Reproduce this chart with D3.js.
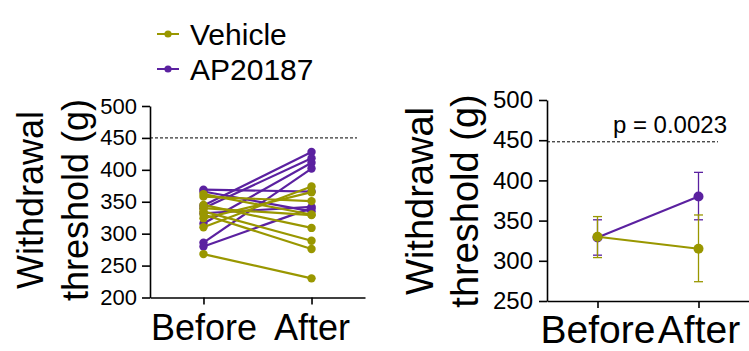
<!DOCTYPE html>
<html>
<head>
<meta charset="utf-8">
<script src="https://cdn.jsdelivr.net/npm/d3@7"></script>
<style>
  body { margin: 0; background: #fff; }
  svg { font-family: Arial, "Liberation Sans", sans-serif; }
  .axis path, .axis line { stroke: #000; stroke-width: 1.6; }
  .axis text { fill: #000; }
</style>
</head>
<body>
<div id="chart"></div>
<script>
// timepoints
var timepoints = ['Before', 'After'];
var groups = ['Vehicle', 'AP20187'];

// individual animals (left panel), [before, after]
var vehicleBefore = [268, 310, 324, 330, 335, 340, 345, 358, 362];
var vehicleAfter  = [230, 374, 365, 276, 289, 329, 309, 351, 330];
var apBefore = [369, 366, 344, 340, 332, 316, 286, 280];
var apAfter  = [366, 335, 428, 418, 342, 411, 402, 340];

// group summary (right panel): mean and error bar ends
var vehicleMean = [330, 315];
var vehicleLow  = [304, 274];
var vehicleHigh = [355, 357];
var apMean = [329, 380];
var apLow  = [307, 351];
var apHigh = [351, 410];

var leftTicks = [200, 250, 300, 350, 400, 450, 500];
var rightTicks = [250, 300, 350, 400, 450, 500];
var cutoffLeft = 450, cutoffRight = 448;
var pLabel = 'p = 0.0023';

var colors = {Vehicle: '#999700', AP20187: '#5b21a0'};

var svg = d3.select('#chart').append('svg')
    .attr('width', 749)
    .attr('height', 351);

// ---------- legend ----------
var legend = svg.append('g');
groups.forEach(function (g, i) {
    var y = 34 + i * 35;
    legend.append('line')
        .attr('x1', 157).attr('x2', 179).attr('y1', y).attr('y2', y)
        .attr('stroke', colors[g]).attr('stroke-width', 2);
    legend.append('circle')
        .attr('cx', 168).attr('cy', y).attr('r', 3.6)
        .attr('fill', colors[g]);
    legend.append('text')
        .attr('x', 190).attr('y', y + 11)
        .style('font-size', '30px')
        .text(g);
});

function yTitle(x1, x2, cy, size) {
    [['Withdrawal', x1], ['threshold (g)', x2]].forEach(function (t) {
        svg.append('text')
            .attr('transform', 'translate(' + t[1] + ',' + cy + ') rotate(-90)')
            .attr('text-anchor', 'middle')
            .style('font-size', size + 'px')
            .text(t[0]);
    });
}

// ---------- left panel: paired lines ----------
var xL = d3.scalePoint().domain(timepoints).range([150, 365]).padding(0.495);
var yL = d3.scaleLinear().domain([200, 500]).range([297.5, 106]);

var gL = svg.append('g');

gL.append('line')
    .attr('x1', 150).attr('x2', 357)
    .attr('y1', yL(cutoffLeft)).attr('y2', yL(cutoffLeft))
    .attr('stroke', '#000').attr('stroke-width', 1)
    .attr('stroke-dasharray', '3,2');

function pairs(before, after) {
    return before.map(function (b, i) { return [b, after[i]]; });
}

var lineL = d3.line()
    .x(function (d, i) { return xL(timepoints[i]); })
    .y(function (d) { return yL(d); });

// AP20187 drawn first so the vehicle dots sit on top where they overlap
[['AP20187', pairs(apBefore, apAfter)], ['Vehicle', pairs(vehicleBefore, vehicleAfter)]].forEach(function (grp) {
    var c = colors[grp[0]];
    var s = gL.append('g');
    s.selectAll('path').data(grp[1]).enter().append('path')
        .attr('d', lineL)
        .attr('fill', 'none').attr('stroke', c).attr('stroke-width', 2.2);
    grp[1].forEach(function (p) {
        s.selectAll(null).data(p).enter().append('circle')
            .attr('cx', function (d, i) { return xL(timepoints[i]); })
            .attr('cy', function (d) { return yL(d); })
            .attr('r', 4.2)
            .attr('fill', c);
    });
});

gL.append('g').attr('class', 'axis')
    .attr('transform', 'translate(150,0)')
    .call(d3.axisLeft(yL).tickValues(leftTicks).tickSize(8).tickSizeOuter(0).tickPadding(5))
    .selectAll('text').style('font-size', '22px');

var axL = gL.append('g').attr('class', 'axis')
    .attr('transform', 'translate(0,297.5)')
    .call(d3.axisBottom(xL).tickSize(7).tickSizeOuter(0));
axL.selectAll('text').attr('y', 42.5).attr('dy', 0).style('font-size', '36px');

yTitle(43, 88, 200, 36);

// ---------- right panel: mean with error bars ----------
var xR = d3.scalePoint().domain(timepoints).range([547, 749]).padding(0.5);
var yR = d3.scaleLinear().domain([250, 500]).range([301, 100]);

var gR = svg.append('g');

gR.append('line')
    .attr('x1', 547).attr('x2', 718)
    .attr('y1', yR(cutoffRight)).attr('y2', yR(cutoffRight))
    .attr('stroke', '#000').attr('stroke-width', 1)
    .attr('stroke-dasharray', '3,2');

gR.append('text')
    .attr('x', 727).attr('y', 133)
    .attr('text-anchor', 'end')
    .style('font-size', '24px')
    .text(pLabel);

var lineR = d3.line()
    .x(function (d, i) { return xR(timepoints[i]); })
    .y(function (d) { return yR(d); });

[['AP20187', apMean, apLow, apHigh], ['Vehicle', vehicleMean, vehicleLow, vehicleHigh]].forEach(function (grp) {
    var c = colors[grp[0]];
    var s = gR.append('g');
    grp[1].forEach(function (m, i) {
        var x = xR(timepoints[i]);
        s.append('line')
            .attr('x1', x).attr('x2', x)
            .attr('y1', yR(grp[2][i])).attr('y2', yR(grp[3][i]))
            .attr('stroke', c).attr('stroke-width', 1.3);
        [grp[2][i], grp[3][i]].forEach(function (v) {
            s.append('line')
                .attr('x1', x - 4.5).attr('x2', x + 4.5)
                .attr('y1', yR(v)).attr('y2', yR(v))
                .attr('stroke', c).attr('stroke-width', 1.3);
        });
    });
    s.append('path').datum(grp[1])
        .attr('d', lineR)
        .attr('fill', 'none').attr('stroke', c).attr('stroke-width', 2);
    s.selectAll('circle').data(grp[1]).enter().append('circle')
        .attr('cx', function (d, i) { return xR(timepoints[i]); })
        .attr('cy', function (d) { return yR(d); })
        .attr('r', 5)
        .attr('fill', c);
});

gR.append('g').attr('class', 'axis')
    .attr('transform', 'translate(547,0)')
    .call(d3.axisLeft(yR).tickValues(rightTicks).tickSize(8).tickSizeOuter(0).tickPadding(6))
    .selectAll('text').style('font-size', '24px');

var axR = gR.append('g').attr('class', 'axis')
    .attr('transform', 'translate(0,301)')
    .call(d3.axisBottom(xR).tickSize(7).tickSizeOuter(0));
axR.selectAll('text').attr('y', 42).attr('dy', 0).style('font-size', '39px');

yTitle(433, 478, 201, 38);
</script>
</body>
</html>
